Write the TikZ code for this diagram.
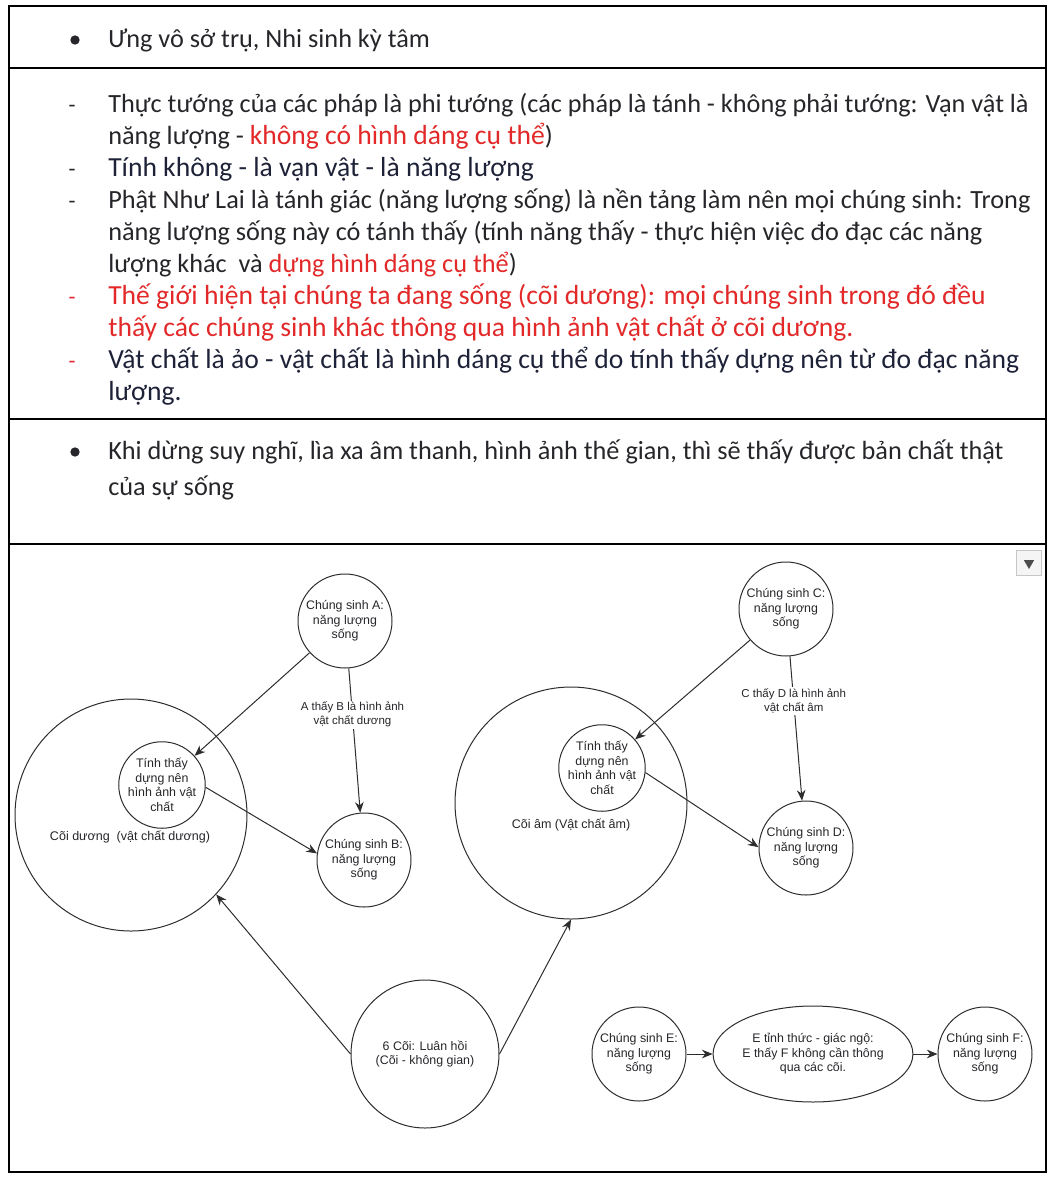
\documentclass[tikz,border=0pt]{standalone}
\usepackage{fontspec}
\setmainfont{Carlito}
\newfontfamily\diagfont{Liberation Sans}
\usepackage{xcolor}
\definecolor{inkgray}{RGB}{38,38,42}
\definecolor{inknavy}{RGB}{30,34,56}
\definecolor{notered}{RGB}{226,40,40}
\definecolor{linegray}{RGB}{45,45,45}
\usepackage{tikz}
\usetikzlibrary{
    arrows.meta,
    positioning,
    shapes.geometric
}
\newcommand{\bigline}{\fontsize{20.7}{24}\selectfont}
\tikzset{
    rowtext/.style  = {anchor=base west, inner sep=0pt, text=inkgray,
                       font=\fontsize{19.7}{24}\selectfont},
    bigtext/.style  = {rowtext, text=inknavy, font=\bigline},
    redtext/.style  = {bigtext, text=notered},
    dashmk/.style   = {anchor=base, inner sep=0pt, text=inkgray,
                       font=\fontsize{17}{24}\selectfont},
    bulletmk/.style = {circle, fill=inkgray, minimum size=7pt, inner sep=0pt},
    being/.style    = {circle, draw=linegray, line width=0.75pt, minimum size=70.5pt,
                       inner sep=0pt, align=center, text=inkgray,
                       font=\diagfont\fontsize{9.3}{10.9}\selectfont},
    seeing/.style   = {being, minimum size=63pt},
    realm/.style    = {circle, draw=linegray, line width=0.75pt, minimum size=174pt,
                       inner sep=0pt},
    realmlbl/.style = {inner sep=0pt, text=inkgray,
                       font=\diagfont\fontsize{9.4}{10.9}\selectfont},
    arrow/.style    = {-{Stealth[length=8pt,width=6.5pt]}, line width=0.75pt,
                       draw=linegray},
    edgelbl/.style  = {fill=white, inner sep=1pt, align=center, text=inkgray,
                       font=\diagfont\fontsize{8.6}{10.6}\selectfont},
    frame/.style    = {line width=2.2pt, draw=black}
}

\begin{document}
\begin{tikzpicture}[x=0.75pt, y=-0.75pt]
\useasboundingbox (0,0) rectangle (1054,1190);

% --- Table frame ---
\draw[frame] (9,6) rectangle (1046,1172);
\draw[frame] (9,68) -- (1046,68);
\draw[frame] (9,419) -- (1046,419);
\draw[frame] (9,544) -- (1046,544);

% --- Row 1 ---
\node[bulletmk] (bul1) at (75,40) {};
\node[rowtext] (head1) at (108,47) {Ưng vô sở trụ, Nhi sinh kỳ tâm};

% --- Row 2 ---
\node[dashmk] (d1) at (72,112) {-};
\node[dashmk] (d2) at (72,176) {-};
\node[dashmk] (d3) at (72,208) {-};
\node[dashmk, text=notered] (d4) at (72,304) {-};
\node[dashmk, text=notered] (d5) at (72,368) {-};
\node[rowtext] (l1)  at (108,112) {Thực tướng của các pháp là phi tướng (các pháp là tánh - không phải tướng: Vạn vật là};
\node[rowtext] (l2)  at (108,144) {năng lượng - \textcolor{notered}{\bigline không có hình dáng cụ thể})};
\node[bigtext] (l3)  at (108,176) {Tính không - là vạn vật - là năng lượng};
\node[rowtext] (l4)  at (108,208) {Phật Như Lai là tánh giác (năng lượng sống) là nền tảng làm nên mọi chúng sinh: Trong};
\node[rowtext] (l5)  at (108,240) {năng lượng sống này có tánh thấy (tính năng thấy - thực hiện việc đo đạc các năng};
\node[rowtext] (l6)  at (108,272) {lượng khác\ \ và \textcolor{notered}{dựng hình dáng cụ thể})};
\node[redtext] (l7)  at (108,304) {Thế giới hiện tại chúng ta đang sống (cõi dương): mọi chúng sinh trong đó đều};
\node[redtext] (l8)  at (108,336) {thấy các chúng sinh khác thông qua hình ảnh vật chất ở cõi dương.};
\node[bigtext] (l9)  at (108,368) {Vật chất là ảo - vật chất là hình dáng cụ thể do tính thấy dựng nên từ đo đạc năng};
\node[bigtext] (l10) at (108,400) {lượng.};

% --- Row 3 ---
\node[bulletmk] (bul3) at (75,452) {};
\node[rowtext] (k1) at (108,459) {Khi dừng suy nghĩ, lìa xa âm thanh, hình ảnh thế gian, thì sẽ thấy được bản chất thật};
\node[rowtext] (k2) at (108,495) {của sự sống};

% --- Image menu button ---
\node[rectangle, draw=gray!45, fill=gray!8, minimum size=18.5pt, inner sep=0pt] (menu) at (1029,563) {};
\node[regular polygon, regular polygon sides=3, shape border rotate=180,
      fill=gray!60!black, inner sep=0pt, minimum size=9pt] (menutri) at (menu.center) {};

% --- Left realm: coi duong ---
\node[realm] (coiDuong) at (131,815) {};
\node[realmlbl] (lblDuong) at (130,837) {Cõi dương\ \ (vật chất dương)};
\node[seeing] (tinhL) at (162,785) {Tính thấy\\dựng nên\\hình ảnh vật\\chất};
\node[being] (sinhA) at (345,621) {Chúng sinh A:\\năng lượng\\sống};
\node[being] (sinhB) at (364,860) {Chúng sinh B:\\năng lượng\\sống};

% --- Right realm: coi am ---
\node[realm] (coiAm) at (571,803) {};
\node[realmlbl] (lblAm) at (571,825) {Cõi âm (Vật chất âm)};
\node[seeing] (tinhR) at (602,768) {Tính thấy\\dựng nên\\hình ảnh vật\\chất};
\node[being] (sinhC) at (786,609) {Chúng sinh C:\\năng lượng\\sống};
\node[being] (sinhD) at (806,848) {Chúng sinh D:\\năng lượng\\sống};

% --- Bottom: luan hoi and awakening ---
\node[being, minimum size=111pt] (luanHoi) at (425,1054) {6 Cõi: Luân hồi\\(Cõi - không gian)};
\node[being] (sinhE) at (639,1054) {Chúng sinh E:\\năng lượng\\sống};
\node[being, ellipse, minimum width=127.5pt, minimum height=72pt] (tinhThuc) at (813,1054)
     {E tỉnh thức - giác ngộ:\\E thấy F không cần thông\\qua các cõi.};
\node[being] (sinhF) at (985,1054) {Chúng sinh F:\\năng lượng\\sống};

% --- Connectors ---
\draw[arrow] (sinhA) -- (tinhL);
\draw[arrow] (sinhA) -- node[edgelbl, pos=0.32] {A thấy B là hình ảnh\\vật chất dương} (sinhB);
\draw[arrow] (tinhL.-3) -- (sinhB.172);
\draw[arrow] (sinhC) -- (tinhR);
\draw[arrow] (sinhC) -- node[edgelbl, pos=0.31] {C thấy D là hình ảnh\\vật chất âm} (sinhD);
\draw[arrow] (tinhR.-6) -- (sinhD.179);
\draw[arrow] (luanHoi.west) -- (coiDuong.-43);
\draw[arrow] (luanHoi.east) -- (coiAm.south);
\draw[arrow] (sinhE) -- (tinhThuc);
\draw[arrow] (tinhThuc) -- (sinhF);

\end{tikzpicture}
\end{document}
